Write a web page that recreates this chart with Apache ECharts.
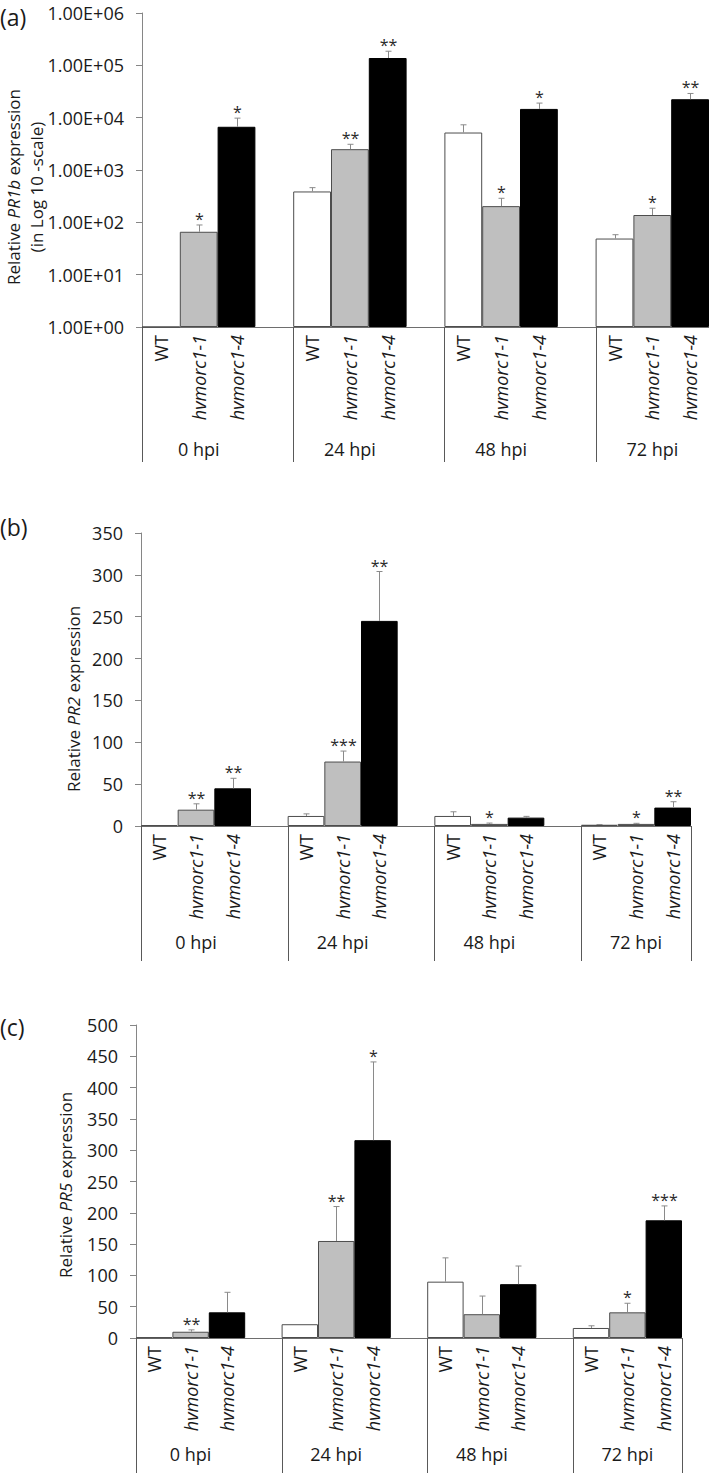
<!DOCTYPE html>
<html><head><meta charset="utf-8">
<script src="https://cdn.jsdelivr.net/npm/echarts@6/dist/echarts.min.js"></script>
<style>html,body{margin:0;padding:0;background:#fff}#c{width:709px;height:1473px}</style>
</head><body><div id="c"></div>
<script>
// ---------- categories ----------
const genotypes = ['WT', 'hvmorc1-1', 'hvmorc1-4'];
const timepoints = ['0 hpi', '24 hpi', '48 hpi', '72 hpi'];
const logTickLabels = ['1.00E+00','1.00E+01','1.00E+02','1.00E+03','1.00E+04','1.00E+05','1.00E+06'];

// ---------- (a) PR1b (log scale) ----------
const pr1bWT   = [1, 389, 5200, 49];
const pr1bWTsd = [0, 71, 2100, 9];
const pr1bM11   = [66, 2500, 204, 138];
const pr1bM11sd = [23, 600, 84, 48];
const pr1bM14   = [6700, 138000, 14700, 22500];
const pr1bM14sd = [3100, 48000, 4300, 6500];
const pr1bSigWT  = ['', '', '', ''];
const pr1bSigM11 = ['*', '**', '*', '*'];
const pr1bSigM14 = ['*', '**', '*', '**'];

// ---------- (b) PR2 ----------
const pr2WT   = [1, 12, 12, 1.5];
const pr2WTsd = [0, 2.5, 5, 0.3];
const pr2M11   = [19.5, 77, 2.5, 2.5];
const pr2M11sd = [7, 12.5, 1, 0.7];
const pr2M14   = [45, 245, 10, 22];
const pr2M14sd = [12, 59, 1.5, 7];
const pr2SigWT  = ['', '', '', ''];
const pr2SigM11 = ['**', '***', '*', '*'];
const pr2SigM14 = ['**', '**', '', '**'];

// ---------- (c) PR5 ----------
const pr5WT   = [1, 22, 90, 16];
const pr5WTsd = [0, 0, 38, 3.5];
const pr5M11   = [10, 155, 38, 41];
const pr5M11sd = [3, 55, 29, 14.5];
const pr5M14   = [41, 316, 86, 188];
const pr5M14sd = [32, 125, 29, 23];
const pr5SigWT  = ['', '', '', ''];
const pr5SigM11 = ['**', '**', '', '*'];
const pr5SigM14 = ['', '*', '', '***'];

// ---------- helpers ----------
const FONT = 'Open Sans';
const TXT = '#1a1a1a';
const barStyles = [
  {color: '#ffffff', borderColor: '#4d4d4d', borderWidth: 1},
  {color: '#bfbfbf', borderColor: '#4d4d4d', borderWidth: 1},
  {color: '#000000', borderColor: '#000000', borderWidth: 1}
];

// slot layout: 3 genotypes per timepoint, an empty spacer slot between timepoints
function slots() {
  const out = [];
  timepoints.forEach((t, ti) => {
    genotypes.forEach((g, gi) => out.push({ti, gi}));
    if (ti < timepoints.length - 1) out.push(null);
  });
  return out;
}
const SLOTS = slots();
const genoCats = SLOTS.map(s => s ? genotypes[s.gi] : '');
const hpiCats = SLOTS.map(s => (s && s.gi === 1) ? timepoints[s.ti] : '');

function barSeries(xi, yi, vals) {
  return {
    type: 'bar', xAxisIndex: xi, yAxisIndex: yi, barWidth: '100%', animation: false, silent: true,
    data: SLOTS.map(s => s ? {value: vals[s.gi][s.ti], itemStyle: barStyles[s.gi]} : '-')
  };
}

function errSeries(xi, yi, vals, sds, sigs) {
  const rows = [];
  SLOTS.forEach((s, idx) => {
    if (s) rows.push({idx, mean: vals[s.gi][s.ti], top: vals[s.gi][s.ti] + sds[s.gi][s.ti], sig: sigs[s.gi][s.ti]});
  });
  return {
    type: 'custom', xAxisIndex: xi, yAxisIndex: yi, clip: false, silent: true, z: 5, animation: false,
    data: rows.map(r => [r.idx, r.mean, r.top]),
    encode: {x: 0, y: [1, 2]},
    renderItem: (params, api) => {
      const r = rows[params.dataIndex];
      const p0 = api.coord([api.value(0), api.value(1)]);
      const p1 = api.coord([api.value(0), api.value(2)]);
      const x = Math.round(p0[0]) + 0.5;
      const ch = [];
      if (api.value(2) > api.value(1)) {
        ch.push({type: 'line', shape: {x1: x, y1: p0[1], x2: x, y2: p1[1]}, style: {stroke: '#8a8a8a', lineWidth: 1}});
        ch.push({type: 'line', shape: {x1: x - 3, y1: p1[1], x2: x + 3, y2: p1[1]}, style: {stroke: '#8a8a8a', lineWidth: 1}});
      }
      if (r.sig) {
        ch.push({type: 'text', x: x, y: p1[1] + 2, style: {text: r.sig, align: 'center', verticalAlign: 'bottom', fontSize: 16, fontFamily: FONT, fill: '#2a2a2a'}});
      }
      return {type: 'group', children: ch};
    }
  };
}

function dividerSeries(xi, yi, yBase, bounds) {
  return {
    type: 'custom', xAxisIndex: xi, yAxisIndex: yi, clip: false, silent: true, animation: false,
    data: bounds.map(b => [0, yBase, b]),
    encode: {x: 0, y: 1},
    renderItem: (params, api) => {
      const band = api.size([1, 0])[0];
      const p = api.coord([0, yBase]);
      const x = Math.round(p[0] - band / 2 + api.value(2) * band) + 0.5;
      return {type: 'line', shape: {x1: x, y1: p[1], x2: x, y2: p[1] + 135}, style: {stroke: '#595959', lineWidth: 1}};
    }
  };
}

function genoAxis(gi) {
  return {
    type: 'category', gridIndex: gi, data: genoCats, position: 'bottom',
    axisLine: {show: true, lineStyle: {color: '#6e6e6e', width: 1}},
    axisTick: {show: false},
    axisLabel: {
      interval: 0, rotate: 90, margin: 8, fontSize: 18, fontFamily: FONT, color: TXT,
      formatter: v => v === '' ? '' : (v === 'WT' ? '{n|' + v + '}' : '{i|' + v + '}'),
      rich: {n: {fontSize: 18, fontFamily: FONT, color: TXT}, i: {fontSize: 18, fontFamily: FONT, fontStyle: 'italic', color: TXT}}
    }
  };
}
function hpiAxis(gi, margin) {
  return {
    type: 'category', gridIndex: gi, data: hpiCats, position: 'bottom',
    axisLine: {show: false}, axisTick: {show: false},
    axisLabel: {interval: 0, margin: margin, fontSize: 18, fontFamily: FONT, color: TXT}
  };
}
function valAxisBase(gi) {
  return {
    gridIndex: gi,
    axisLine: {show: true, lineStyle: {color: '#868686', width: 1}},
    axisTick: {show: true, inside: false, length: 6, lineStyle: {color: '#868686'}},
    splitLine: {show: false},
    axisLabel: {margin: 18, fontSize: 18, lineHeight: 18, fontFamily: FONT, color: TXT}
  };
}

const yA = Object.assign(valAxisBase(0), {type: 'log', logBase: 10, min: 1, max: 1e6, splitNumber: 6});
yA.axisLabel.formatter = v => logTickLabels[Math.round(Math.log10(v))];
const yB = Object.assign(valAxisBase(1), {type: 'value', min: 0, max: 350, interval: 50});
const yC = Object.assign(valAxisBase(2), {type: 'value', min: 0, max: 500, interval: 50});

function yTitle(x, y, text, lh) {
  return {
    type: 'text', x: x, y: y, rotation: Math.PI / 2, silent: true,
    style: {
      text: text, align: 'center', verticalAlign: 'middle', fontSize: 17, fontFamily: FONT, fill: TXT, lineHeight: lh,
      rich: {i: {fontStyle: 'italic', fontSize: 17, fontFamily: FONT, fill: TXT, lineHeight: lh}}
    }
  };
}
function panelLetter(x, y, text) {
  return {type: 'text', x: x, y: y, silent: true, style: {text: text, align: 'left', verticalAlign: 'middle', fontSize: 23, fontFamily: FONT, fill: TXT}};
}

const option = {
  animation: false,
  backgroundColor: '#ffffff',
  grid: [
    {left: 142, top: 13, width: 567, height: 314},
    {left: 141, top: 533, width: 550, height: 293},
    {left: 136, top: 1025, width: 546, height: 313}
  ],
  xAxis: [genoAxis(0), hpiAxis(0, 113), genoAxis(1), hpiAxis(1, 107), genoAxis(2), hpiAxis(2, 107)],
  yAxis: [yA, yB, yC],
  series: [
    barSeries(0, 0, [pr1bWT, pr1bM11, pr1bM14]),
    errSeries(0, 0, [pr1bWT, pr1bM11, pr1bM14], [pr1bWTsd, pr1bM11sd, pr1bM14sd], [pr1bSigWT, pr1bSigM11, pr1bSigM14]),
    dividerSeries(0, 0, 1, [0, 4, 8, 12]),
    barSeries(2, 1, [pr2WT, pr2M11, pr2M14]),
    errSeries(2, 1, [pr2WT, pr2M11, pr2M14], [pr2WTsd, pr2M11sd, pr2M14sd], [pr2SigWT, pr2SigM11, pr2SigM14]),
    dividerSeries(2, 1, 0, [0, 4, 8, 12, 15]),
    barSeries(4, 2, [pr5WT, pr5M11, pr5M14]),
    errSeries(4, 2, [pr5WT, pr5M11, pr5M14], [pr5WTsd, pr5M11sd, pr5M14sd], [pr5SigWT, pr5SigM11, pr5SigM14]),
    dividerSeries(4, 2, 0, [0, 4, 8, 12, 15])
  ],
  graphic: [
    panelLetter(0, 17, '(a)'),
    panelLetter(0, 527, '(b)'),
    panelLetter(0, 1027, '(c)'),
    yTitle(25, 187, 'Relative {i|PR1b} expression\n(in Log 10 -scale)', 23),
    yTitle(73, 699, 'Relative {i|PR2} expression', 24),
    yTitle(65, 1185, 'Relative {i|PR5} expression', 24)
  ]
};

const chart = echarts.init(document.getElementById('c'), null, {renderer: 'svg', width: 709, height: 1473});
chart.setOption(option);
</script>
</body></html>
